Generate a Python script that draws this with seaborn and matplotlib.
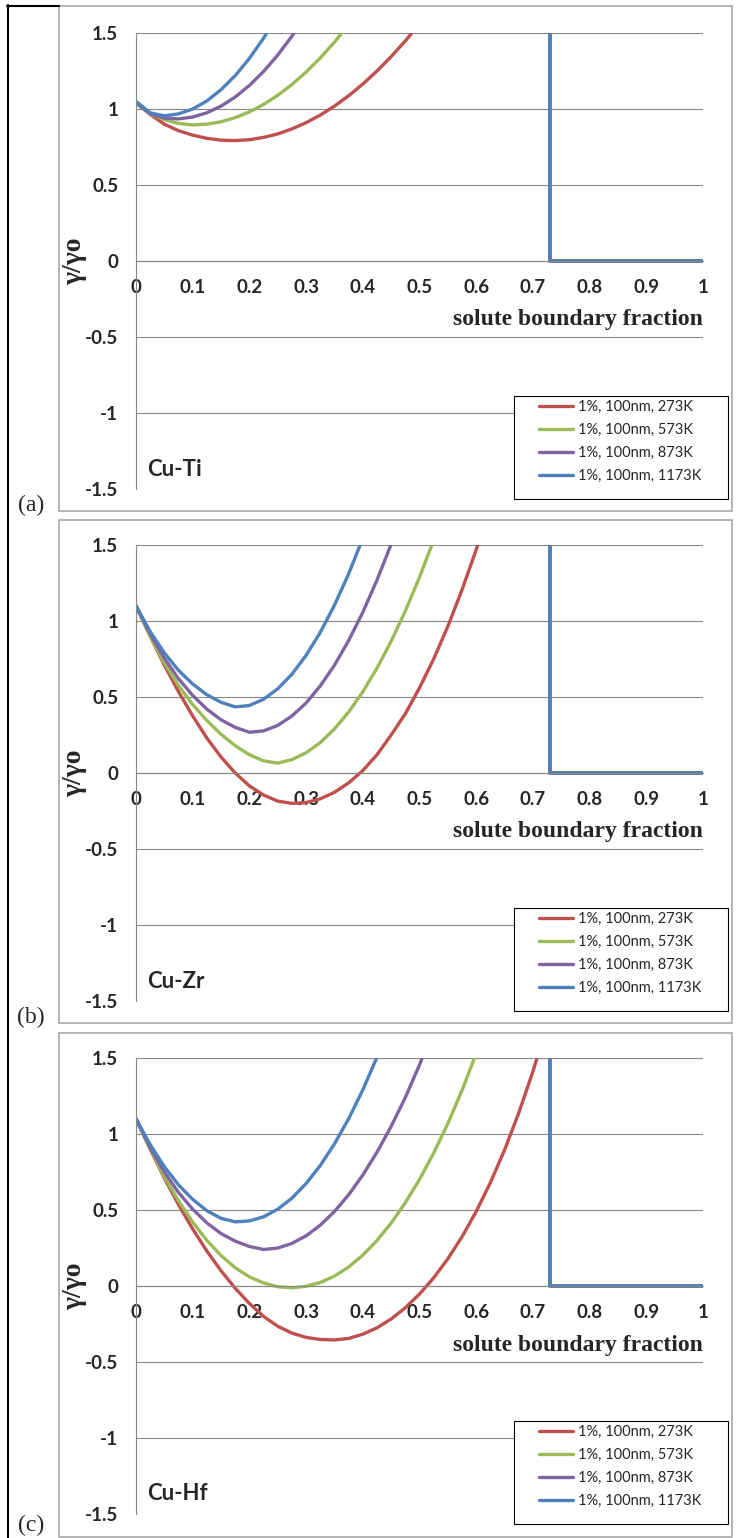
import numpy as np
import pandas as pd
import seaborn as sns
import matplotlib.pyplot as plt
from matplotlib.patches import Rectangle
from matplotlib.lines import Line2D

# series shared by the three panels
LABELS = ['1%, 100nm, 273K', '1%, 100nm, 573K', '1%, 100nm, 873K', '1%, 100nm, 1173K']
COLORS = ['#C0504D', '#9BBB59', '#8064A2', '#4F81BD']
SYSTEMS = ['Cu-Ti', 'Cu-Zr', 'Cu-Hf']
TAGS = ['(a)', '(b)', '(c)']
X_TICKS = [0, 0.1, 0.2, 0.3, 0.4, 0.5, 0.6, 0.7, 0.8, 0.9, 1.0]
X_TICK_LABELS = ['0', '0.1', '0.2', '0.3', '0.4', '0.5', '0.6', '0.7', '0.8', '0.9', '1']
Y_TICKS = [-1.5, -1, -0.5, 0, 0.5, 1, 1.5]
Y_TICK_LABELS = ['-1.5', '-1', '-0.5', '0', '0.5', '1', '1.5']

# Cu-Ti
ti_273_x = [0, 0.025, 0.05, 0.075, 0.1, 0.125, 0.15, 0.175, 0.2, 0.225, 0.25, 0.275, 0.3,
            0.325, 0.35, 0.375, 0.4, 0.425, 0.45, 0.475, 0.5]
ti_273_y = [1.04, 0.965, 0.9, 0.857, 0.828, 0.807, 0.795, 0.792, 0.798, 0.813, 0.836, 0.869, 0.91,
            0.96, 1.019, 1.087, 1.164, 1.25, 1.345, 1.448, 1.561]
ti_573_x = [0, 0.025, 0.05, 0.075, 0.1, 0.125, 0.15, 0.175, 0.2, 0.225, 0.25, 0.275, 0.3,
            0.325, 0.35, 0.375, 0.4]
ti_573_y = [1.04, 0.97, 0.93, 0.905, 0.895, 0.9, 0.916, 0.943, 0.981, 1.03, 1.09, 1.161, 1.243,
            1.336, 1.44, 1.555, 1.68]
ti_873_x = [0, 0.025, 0.05, 0.075, 0.1, 0.125, 0.15, 0.175, 0.2, 0.225, 0.25, 0.275, 0.3]
ti_873_y = [1.04, 0.97, 0.94, 0.935, 0.947, 0.975, 1.019, 1.079, 1.155, 1.247, 1.355, 1.479, 1.62]
ti_1173_x = [0, 0.025, 0.05, 0.075, 0.1, 0.125, 0.15, 0.175, 0.2, 0.225, 0.25]
ti_1173_y = [1.05, 0.975, 0.955, 0.968, 1.0, 1.053, 1.127, 1.22, 1.333, 1.466, 1.62]

# Cu-Zr
zr_273_x = [0, 0.025, 0.05, 0.075, 0.1, 0.125, 0.15, 0.175, 0.2, 0.225, 0.25, 0.275, 0.3, 0.325,
            0.35, 0.375, 0.4, 0.425, 0.45, 0.475, 0.5, 0.525, 0.55, 0.575, 0.6, 0.625]
zr_273_y = [1.1, 0.9, 0.71, 0.535, 0.375, 0.23, 0.105, 0.0, -0.085, -0.145, -0.185, -0.2, -0.194, -0.17,
            -0.127, -0.065, 0.016, 0.12, 0.25, 0.39, 0.56, 0.75, 0.965, 1.205, 1.47, 1.76]
zr_573_x = [0, 0.025, 0.05, 0.075, 0.1, 0.125, 0.15, 0.175, 0.2, 0.225, 0.25, 0.275, 0.3, 0.325,
            0.35, 0.375, 0.4, 0.425, 0.45, 0.475, 0.5, 0.525, 0.55]
zr_573_y = [1.1, 0.9, 0.725, 0.575, 0.45, 0.345, 0.255, 0.18, 0.12, 0.08, 0.065, 0.088, 0.133, 0.2,
            0.29, 0.401, 0.534, 0.69, 0.867, 1.066, 1.288, 1.531, 1.796]
zr_873_x = [0, 0.025, 0.05, 0.075, 0.1, 0.125, 0.15, 0.175, 0.2, 0.225, 0.25, 0.275, 0.3, 0.325,
            0.35, 0.375, 0.4, 0.425, 0.45, 0.475]
zr_873_y = [1.1, 0.915, 0.755, 0.62, 0.51, 0.42, 0.35, 0.3, 0.268, 0.277, 0.313, 0.375, 0.461, 0.573,
            0.709, 0.871, 1.057, 1.269, 1.505, 1.766]
zr_1173_x = [0, 0.025, 0.05, 0.075, 0.1, 0.125, 0.15, 0.175, 0.2, 0.225, 0.25, 0.275, 0.3, 0.325,
             0.35, 0.375, 0.4, 0.425]
zr_1173_y = [1.1, 0.93, 0.79, 0.675, 0.585, 0.515, 0.465, 0.435, 0.444, 0.485, 0.554, 0.65, 0.774, 0.925,
             1.104, 1.31, 1.544, 1.8]

# Cu-Hf
hf_273_x = [0, 0.025, 0.05, 0.075, 0.1, 0.125, 0.15, 0.175, 0.2, 0.225, 0.25, 0.275, 0.3, 0.325,
            0.35, 0.375, 0.4, 0.425, 0.45, 0.475, 0.5, 0.525, 0.55, 0.575, 0.6, 0.625, 0.65, 0.675,
            0.7, 0.725]
hf_273_y = [1.1, 0.9, 0.71, 0.535, 0.375, 0.23, 0.1, -0.015, -0.115, -0.2, -0.265, -0.31, -0.338, -0.352,
            -0.355, -0.345, -0.317, -0.275, -0.217, -0.143, -0.053, 0.054, 0.179, 0.324, 0.49, 0.68, 0.895,
            1.138, 1.411, 1.716]
hf_573_x = [0, 0.025, 0.05, 0.075, 0.1, 0.125, 0.15, 0.175, 0.2, 0.225, 0.25, 0.275, 0.3, 0.325,
            0.35, 0.375, 0.4, 0.425, 0.45, 0.475, 0.5, 0.525, 0.55, 0.575, 0.6, 0.625]
hf_573_y = [1.1, 0.9, 0.72, 0.56, 0.42, 0.3, 0.2, 0.12, 0.06, 0.02, -0.005, -0.012, -0.002, 0.023,
            0.065, 0.125, 0.203, 0.299, 0.414, 0.548, 0.701, 0.874, 1.069, 1.287, 1.53, 1.8]
hf_873_x = [0, 0.025, 0.05, 0.075, 0.1, 0.125, 0.15, 0.175, 0.2, 0.225, 0.25, 0.275, 0.3, 0.325,
            0.35, 0.375, 0.4, 0.425, 0.45, 0.475, 0.5, 0.525]
hf_873_y = [1.1, 0.91, 0.75, 0.615, 0.505, 0.415, 0.345, 0.295, 0.26, 0.24, 0.25, 0.28, 0.33, 0.4,
            0.49, 0.6, 0.73, 0.88, 1.05, 1.24, 1.455, 1.695]
hf_1173_x = [0, 0.025, 0.05, 0.075, 0.1, 0.125, 0.15, 0.175, 0.2, 0.225, 0.25, 0.275, 0.3, 0.325,
             0.35, 0.375, 0.4, 0.425, 0.45]
hf_1173_y = [1.1, 0.93, 0.785, 0.665, 0.57, 0.495, 0.445, 0.422, 0.428, 0.455, 0.505, 0.578, 0.674, 0.793,
             0.935, 1.1, 1.29, 1.505, 1.745]

# every curve shoots off the top and drops to zero at x = 0.73
step_x = [0.73, 0.73, 1.0]
step_y = [10.0, 0.0, 0.0]

PANELS = [
    [(ti_273_x, ti_273_y), (ti_573_x, ti_573_y), (ti_873_x, ti_873_y), (ti_1173_x, ti_1173_y)],
    [(zr_273_x, zr_273_y), (zr_573_x, zr_573_y), (zr_873_x, zr_873_y), (zr_1173_x, zr_1173_y)],
    [(hf_273_x, hf_273_y), (hf_573_x, hf_573_y), (hf_873_x, hf_873_y), (hf_1173_x, hf_1173_y)],
]

W, H = 741, 1538
GRID = '#878787'
FRAME = '#a8a8a8'


def fx(px):
    return px / W


def fy(py):
    return 1 - py / H


def build_frame(curves):
    rows = []
    for label, (xs, ys) in zip(LABELS, curves):
        for x, y in zip(list(xs) + step_x, list(ys) + step_y):
            rows.append((label, x, y))
    return pd.DataFrame(rows, columns=['series', 'x', 'y'])


sns.set_style('white')
plt.rcParams['font.family'] = ['Lato', 'DejaVu Sans']
plt.rcParams['axes.unicode_minus'] = False

fig = plt.figure(figsize=(W / 100, H / 100), dpi=100)

# outer black border of the composite figure
fig.add_artist(Line2D([fx(7.5), fx(7.5)], [fy(5), fy(H)], color='black', lw=1.5, transform=fig.transFigure))
fig.add_artist(Line2D([fx(7), fx(59)], [fy(5.5), fy(5.5)], color='black', lw=1.5, transform=fig.transFigure))

axes_top = [33, 545, 1058]
frame_top = [6, 520, 1033]
frame_bot = [511, 1023, 1537]
tag_y = [505, 1017, 1525]
ax_h = 456
ax_w = 567
ax_left = 136
palette = dict(zip(LABELS, COLORS))

for i, curves in enumerate(PANELS):
    top = axes_top[i]
    # grey frame of each chart
    fig.add_artist(Rectangle((fx(59), fy(frame_bot[i])), fx(732) - fx(59), fy(frame_top[i]) - fy(frame_bot[i]),
                             transform=fig.transFigure, fill=False, ec=FRAME, lw=1.2))
    fig.text(fx(31), fy(tag_y[i]), TAGS[i], ha='center', va='center',
             family='Liberation Serif', fontsize=17)

    ax = fig.add_axes([fx(ax_left), fy(top + ax_h), ax_w / W, ax_h / H])
    df = build_frame(curves)
    sns.lineplot(data=df, x='x', y='y', hue='series', hue_order=LABELS, palette=palette,
                 sort=False, estimator=None, lw=2.4, ax=ax,
                 solid_joinstyle='round', solid_capstyle='round')
    ax.set_xlim(0, 1)
    ax.set_ylim(-1.5, 1.5)
    sns.despine(ax=ax)
    ax.spines['left'].set_color(GRID)
    ax.spines['bottom'].set_color(GRID)
    ax.spines['left'].set_linewidth(0.8)
    ax.spines['bottom'].set_linewidth(0.8)
    ax.spines['bottom'].set_position(('data', 0))

    ax.set_xticks(X_TICKS)
    ax.set_xticklabels(X_TICK_LABELS, fontweight='bold', fontsize=13.5)
    ax.set_yticks(Y_TICKS)
    ax.set_yticklabels(Y_TICK_LABELS, fontweight='bold', fontsize=13.5)
    ax.tick_params(axis='x', direction='out', length=3.6, width=0.8, color=GRID, pad=9.5)
    ax.tick_params(axis='y', direction='out', length=4.3, width=0.8, color=GRID, pad=8.5)
    ax.grid(True, axis='y', color=GRID, lw=0.8)
    ax.yaxis.get_gridlines()[0].set_visible(False)

    ax.set_xlabel('')
    ax.set_ylabel('γ/γo', family='Liberation Serif', fontweight='bold', fontsize=20)
    ax.yaxis.set_label_coords(-0.0864, 0.5)
    ax.text(1.0, (ax_h - 287) / ax_h, 'solute boundary fraction', transform=ax.transAxes,
            ha='right', va='center', family='Liberation Serif', fontweight='bold', fontsize=17)
    ax.text((147 - ax_left) / ax_w, 20 / ax_h, SYSTEMS[i], transform=ax.transAxes,
            ha='left', va='center', fontweight='bold', fontsize=16)

    # legend: white box with black edge, entries on top
    handles, labels = ax.get_legend_handles_labels()
    ax.get_legend().remove()
    box = Rectangle((fx(514), fy(top + 363 + 103)), fx(728) - fx(514), fy(top + 363) - fy(top + 363 + 103),
                    transform=fig.transFigure, fc='white', ec='black', lw=0.8, zorder=4, clip_on=False)
    ax.add_patch(box)
    leg = ax.legend(handles, labels, loc='upper left',
                    bbox_to_anchor=((539 - ax_left) / ax_w, (ax_h - 367) / ax_h),
                    frameon=False, fontsize=10.5, handlelength=2.35, handletextpad=0.3,
                    labelspacing=0.62, borderpad=0, borderaxespad=0)
    leg.set_zorder(5)

fig.savefig('out.png', dpi=100)
